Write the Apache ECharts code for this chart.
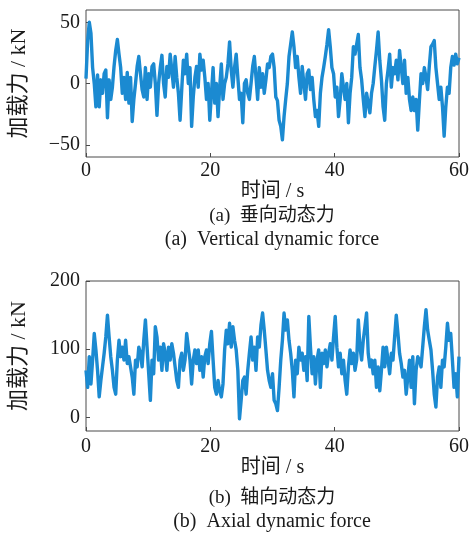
<!DOCTYPE html>
<html>
<head>
<meta charset="utf-8">
<script src="https://cdn.jsdelivr.net/npm/echarts@6/dist/echarts.min.js"></script>
<style>
  html, body { margin: 0; padding: 0; background: #fff; }
  #main { width: 472px; height: 535px; }
</style>
</head>
<body>
<div id="main"></div>
<script>
// values, evenly spaced over 0-60 s
const verticalForce = [
  4, 35, 50, 41, 13, 0, -19, 7, -19, 3, -8, 8, 11, -28, 3, -13, -3, 14, 27, 36,
  24, 13, -8, 5, -13, 9, -16, 5, -31, -13, 0, 14, 22, 8, -5, -11, 13, -13, 8, -3,
  14, 16, 0, -26, 0, 13, 23, 0, -11, 14, 5, 24, 11, -3, 22, 5, -8, -30, -5, 19,
  8, 24, 0, 13, -35, -11, 5, 14, -3, 24, 11, 19, 5, -13, 0, -30, -8, 13, -16, 0,
  -27, -3, 16, -13, 0, 5, 16, 34, 11, -3, 13, 24, 5, -13, -8, -32, 0, 3, -8, -13,
  0, 14, 22, 5, -13, 13, -3, 8, -8, 3, 16, 13, 22, 24, 13, -11, -14, -30, -35, -46,
  -27, -13, 0, 22, 32, 42, 30, 13, 22, 5, -8, 14, 0, -13, 8, 11, -5, 5, -13, -27,
  -22, -35, -8, 5, 13, 22, 32, 44, 30, 13, 8, -11, -3, -27, -13, 8, -3, -13, 0, -32,
  -8, 5, 30, 24, 32, 40, 13, 3, -13, -27, -8, -16, -24, -8, 0, 14, 27, 42, 19, 3,
  -19, -30, 0, 11, 24, -3, 13, 8, 19, 3, 27, 13, 0, 19, -8, 5, -13, -22, -11, -22,
  -13, -38, -14, 8, 0, 13, 5, -5, 14, 30, 32, 35, 13, 0, -13, -3, -19, -43, -19, -3,
  -8, 13, 22, 15, 24, 16, 21
];
const axialForce = [
  69, 44, 89, 49, 84, 123, 99, 69, 30, 54, 74, 94, 118, 150, 118, 89, 69, 44, 34, 84,
  113, 89, 103, 84, 113, 79, 89, 74, 59, 34, 84, 74, 103, 94, 74, 113, 143, 103, 64, 25,
  84, 64, 133, 118, 84, 103, 69, 108, 94, 69, 103, 84, 108, 94, 74, 54, 44, 84, 94, 69,
  84, 123, 103, 84, 49, 84, 99, 79, 99, 69, 89, 59, 89, 99, 79, 108, 126, 84, 44, 34,
  54, 39, 30, 49, 99, 128, 108, 138, 103, 133, 113, 99, 69, -2, 25, 54, 59, 34, 69, 94,
  118, 84, 103, 69, 118, 103, 135, 153, 128, 99, 69, 54, 44, 64, 25, 20, 10, 44, 84, 113,
  153, 128, 143, 113, 94, 69, 30, 84, 64, 103, 84, 94, 69, 89, 54, 148, 103, 64, 89, 49,
  84, 99, 44, 94, 79, 99, 74, 94, 108, 84, 118, 148, 103, 74, 94, 64, 84, 54, 34, 74,
  99, 79, 94, 69, 84, 143, 103, 84, 113, 133, 153, 94, 74, 84, 64, 84, 44, 74, 39, 69,
  103, 74, 103, 84, 64, 94, 84, 118, 150, 123, 94, 79, 59, 69, 34, 59, 84, 44, 89, 20,
  69, 89, 84, 74, 103, 133, 158, 128, 113, 99, 69, 34, 15, 59, 74, 44, 84, 74, 103, 138,
  113, 123, 84, 44, 64, 30, 89
];
const xTicks = [0, 20, 40, 60];
const verticalTicks = [-50, 0, 50];
const axialTicks = [0, 100, 200];

const toSeries = function (vals) {
  const dt = 60 / (vals.length - 1);
  return vals.map(function (v, i) { return [i * dt, v]; });
};

var chartDom = document.getElementById('main');
var myChart = echarts.init(chartDom, null, { renderer: 'canvas' });

const numFont = "'Liberation Serif', 'Noto Sans CJK SC', serif";
const textColor = '#1a1a1a';
const frameColor = '#4a4a4a';
const lineColor = '#1b8ad1';

const minusLabel = function (v) { return String(v).replace('-', '\u2212'); };

function xAxisFor(idx, gap, margin) {
  return {
    gridIndex: idx,
    type: 'value',
    min: 0,
    max: 60,
    interval: 20,
    name: '时间 / s',
    nameLocation: 'middle',
    nameGap: gap,
    nameTextStyle: { fontSize: 20, color: textColor, fontFamily: numFont },
    axisLine: { show: false, onZero: false },
    axisTick: { inside: true, length: 4, lineStyle: { color: frameColor } },
    axisLabel: {
      fontSize: 20, color: textColor, fontFamily: numFont, margin: margin,
      customValues: xTicks
    },
    splitLine: { show: false }
  };
}

function yAxisFor(idx, min, max, ticks) {
  return {
    gridIndex: idx,
    type: 'value',
    min: min,
    max: max,
    name: '加载力 / kN',
    nameLocation: 'middle',
    nameGap: 56,
    nameTextStyle: { fontSize: 22, color: textColor, fontFamily: numFont },
    axisLine: { show: false, onZero: false },
    axisTick: { inside: true, length: 4, lineStyle: { color: frameColor }, customValues: ticks },
    axisLabel: {
      fontSize: 20, color: textColor, fontFamily: numFont, margin: 6,
      customValues: ticks, formatter: minusLabel
    },
    splitLine: { show: false }
  };
}

var option = {
  animation: false,
  backgroundColor: '#fff',
  grid: [
    { left: 84, top: 10, width: 377, height: 147, show: true, borderColor: frameColor, borderWidth: 1, backgroundColor: 'transparent' },
    { left: 84, top: 281, width: 377, height: 150, show: true, borderColor: frameColor, borderWidth: 1, backgroundColor: 'transparent' }
  ],
  xAxis: [xAxisFor(0, 24, 4), xAxisFor(1, 27, 6)],
  yAxis: [
    yAxisFor(0, -60, 60, verticalTicks),
    yAxisFor(1, -20, 200, axialTicks)
  ],
  graphic: [
    { type: 'text', x: 272, y: 216, style: { text: '(a)  垂向动态力', fill: textColor, font: "19px 'Liberation Serif', 'Noto Sans CJK SC'", align: 'center', verticalAlign: 'middle' } },
    { type: 'text', x: 272, y: 240, style: { text: '(a)  Vertical dynamic force', fill: textColor, font: "20px 'Liberation Serif'", align: 'center', verticalAlign: 'middle' } },
    { type: 'text', x: 272, y: 498, style: { text: '(b)  轴向动态力', fill: textColor, font: "19px 'Liberation Serif', 'Noto Sans CJK SC'", align: 'center', verticalAlign: 'middle' } },
    { type: 'text', x: 272, y: 522, style: { text: '(b)  Axial dynamic force', fill: textColor, font: "20px 'Liberation Serif'", align: 'center', verticalAlign: 'middle' } }
  ],
  series: [
    {
      name: '垂向动态力',
      type: 'line',
      xAxisIndex: 0,
      yAxisIndex: 0,
      showSymbol: false,
      lineStyle: { color: lineColor, width: 3.4, join: 'round' },
      data: toSeries(verticalForce)
    },
    {
      name: '轴向动态力',
      type: 'line',
      xAxisIndex: 1,
      yAxisIndex: 1,
      showSymbol: false,
      lineStyle: { color: lineColor, width: 3.4, join: 'round' },
      data: toSeries(axialForce)
    }
  ]
};

option && myChart.setOption(option);
</script>
</body>
</html>
